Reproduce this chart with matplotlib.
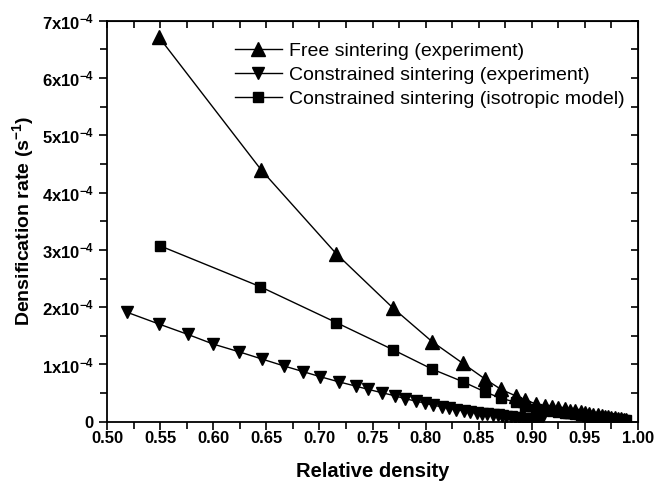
import numpy as np
import matplotlib.pyplot as plt
from matplotlib.ticker import MultipleLocator

plt.rcParams['font.family'] = ['Liberation Sans', 'DejaVu Sans']
plt.rcParams['mathtext.fontset'] = 'custom'
plt.rcParams['mathtext.rm'] = 'Liberation Sans:bold'
plt.rcParams['mathtext.bf'] = 'Liberation Sans:bold'
plt.rcParams['mathtext.default'] = 'bf'

#================================================================================
# data (rates in units of 1e-4 1/s)
#================================================================================
free_x = [0.549, 0.645, 0.716, 0.769, 0.806, 0.835, 0.856, 0.871, 0.885, 0.894,
          0.904, 0.912, 0.919, 0.925, 0.931, 0.936, 0.941, 0.946, 0.950, 0.954,
          0.958, 0.962, 0.966, 0.969, 0.972, 0.975, 0.978, 0.981, 0.984, 0.987, 0.989]
free_y = [6.71, 4.40, 2.93, 1.99, 1.40, 1.02, 0.745, 0.565, 0.45, 0.38,
          0.31, 0.28, 0.255, 0.235, 0.215, 0.195, 0.18, 0.165, 0.15, 0.14,
          0.125, 0.115, 0.10, 0.09, 0.08, 0.07, 0.06, 0.05, 0.045, 0.035, 0.03]

con_x = [0.519, 0.549, 0.576, 0.600, 0.6245, 0.646, 0.667, 0.685, 0.701, 0.718,
         0.734, 0.746, 0.759, 0.771, 0.781, 0.791, 0.799, 0.807, 0.815, 0.822,
         0.829, 0.836, 0.842, 0.848, 0.853, 0.858, 0.863, 0.868, 0.872, 0.876,
         0.880, 0.884, 0.888, 0.892, 0.895, 0.898, 0.901, 0.904, 0.907, 0.909]
con_y = [1.91, 1.705, 1.525, 1.356, 1.22, 1.094, 0.972, 0.873, 0.785, 0.698,
         0.623, 0.565, 0.506, 0.454, 0.40, 0.36, 0.326, 0.29, 0.26, 0.235,
         0.21, 0.19, 0.17, 0.155, 0.14, 0.13, 0.12, 0.11, 0.10, 0.09,
         0.08, 0.07, 0.065, 0.055, 0.05, 0.045, 0.04, 0.035, 0.03, 0.025]

iso_x = [0.550, 0.644, 0.716, 0.769, 0.806, 0.835, 0.856, 0.871, 0.885, 0.894,
         0.904, 0.912, 0.919, 0.925, 0.931, 0.936, 0.941, 0.946, 0.950, 0.954,
         0.958, 0.962, 0.966, 0.969, 0.972, 0.975, 0.978, 0.981, 0.984, 0.987, 0.989]
iso_y = [3.07, 2.36, 1.73, 1.26, 0.92, 0.70, 0.52, 0.41, 0.34, 0.27,
         0.23, 0.21, 0.19, 0.175, 0.16, 0.145, 0.13, 0.12, 0.11, 0.10,
         0.09, 0.085, 0.075, 0.07, 0.06, 0.055, 0.05, 0.04, 0.035, 0.03, 0.025]

labels = ['Free sintering (experiment)',
          'Constrained sintering (experiment)',
          'Constrained sintering (isotropic model)']

ytick_vals = [0, 1, 2, 3, 4, 5, 6, 7]
ytick_labels = ['0'] + [r'%dx10$^{-4}$' % v for v in ytick_vals[1:]]
xtick_vals = [0.50, 0.55, 0.60, 0.65, 0.70, 0.75, 0.80, 0.85, 0.90, 0.95, 1.00]

#================================================================================
fig = plt.figure(figsize=(6.66, 4.82), dpi=100)
ax = fig.add_axes([0.1607, 0.125, 0.7973, 0.832])

scale = 1e-4
l_iso, = ax.plot(iso_x, np.array(iso_y) * scale, color='black', lw=1,
                 marker='s', ms=6.5, mfc='black', mec='black', zorder=2)
l_con, = ax.plot(con_x, np.array(con_y) * scale, color='black', lw=1,
                 marker='v', ms=8.5, mfc='black', mec='black', zorder=3)
l_free, = ax.plot(free_x, np.array(free_y) * scale, color='black', lw=1,
                  marker='^', ms=10, mfc='black', mec='black', zorder=4)

ax.set_xlim(0.5, 1.0)
ax.set_ylim(0, 7e-4)
ax.set_xticks(xtick_vals, ['%.2f' % v for v in xtick_vals])
ax.set_yticks(np.array(ytick_vals) * scale, ytick_labels)
ax.xaxis.set_minor_locator(MultipleLocator(0.025))
ax.yaxis.set_minor_locator(MultipleLocator(0.5e-4))

ax.tick_params(which='both', direction='out', width=1.2, labelsize=12)
ax.tick_params(which='major', length=6)
ax.tick_params(which='minor', length=5)
ax.tick_params(axis='x', which='major', pad=0.5)
for lab in ax.get_xticklabels() + ax.get_yticklabels():
    lab.set_fontweight('bold')
for sp in ax.spines.values():
    sp.set_linewidth(1.3)

#top and right axes carry inward ticks only
top = ax.secondary_xaxis('top')
top.set_xticks(xtick_vals)
top.xaxis.set_minor_locator(MultipleLocator(0.025))
top.tick_params(which='both', direction='in', length=5, width=1.2, labeltop=False)
right = ax.secondary_yaxis('right')
right.set_yticks(np.array(ytick_vals) * scale)
right.yaxis.set_minor_locator(MultipleLocator(0.5e-4))
right.tick_params(which='both', direction='in', length=5, width=1.2, labelright=False)

ax.set_xlabel('Relative density', fontsize=14.5, fontweight='bold')
ax.xaxis.set_label_coords(0.5, -0.10)
ax.set_ylabel(r'Densification rate (s$^{-1}$)', fontsize=14, fontweight='bold')
ax.yaxis.set_label_coords(-0.133, 0.5)

ax.legend([l_free, l_con, l_iso], labels, loc='upper left', frameon=False,
          fontsize=14, handlelength=2.4, handletextpad=0.4, labelspacing=0.33,
          borderpad=0, borderaxespad=0, bbox_to_anchor=(0.241, 0.946))

fig.savefig('out.png', dpi=100)
